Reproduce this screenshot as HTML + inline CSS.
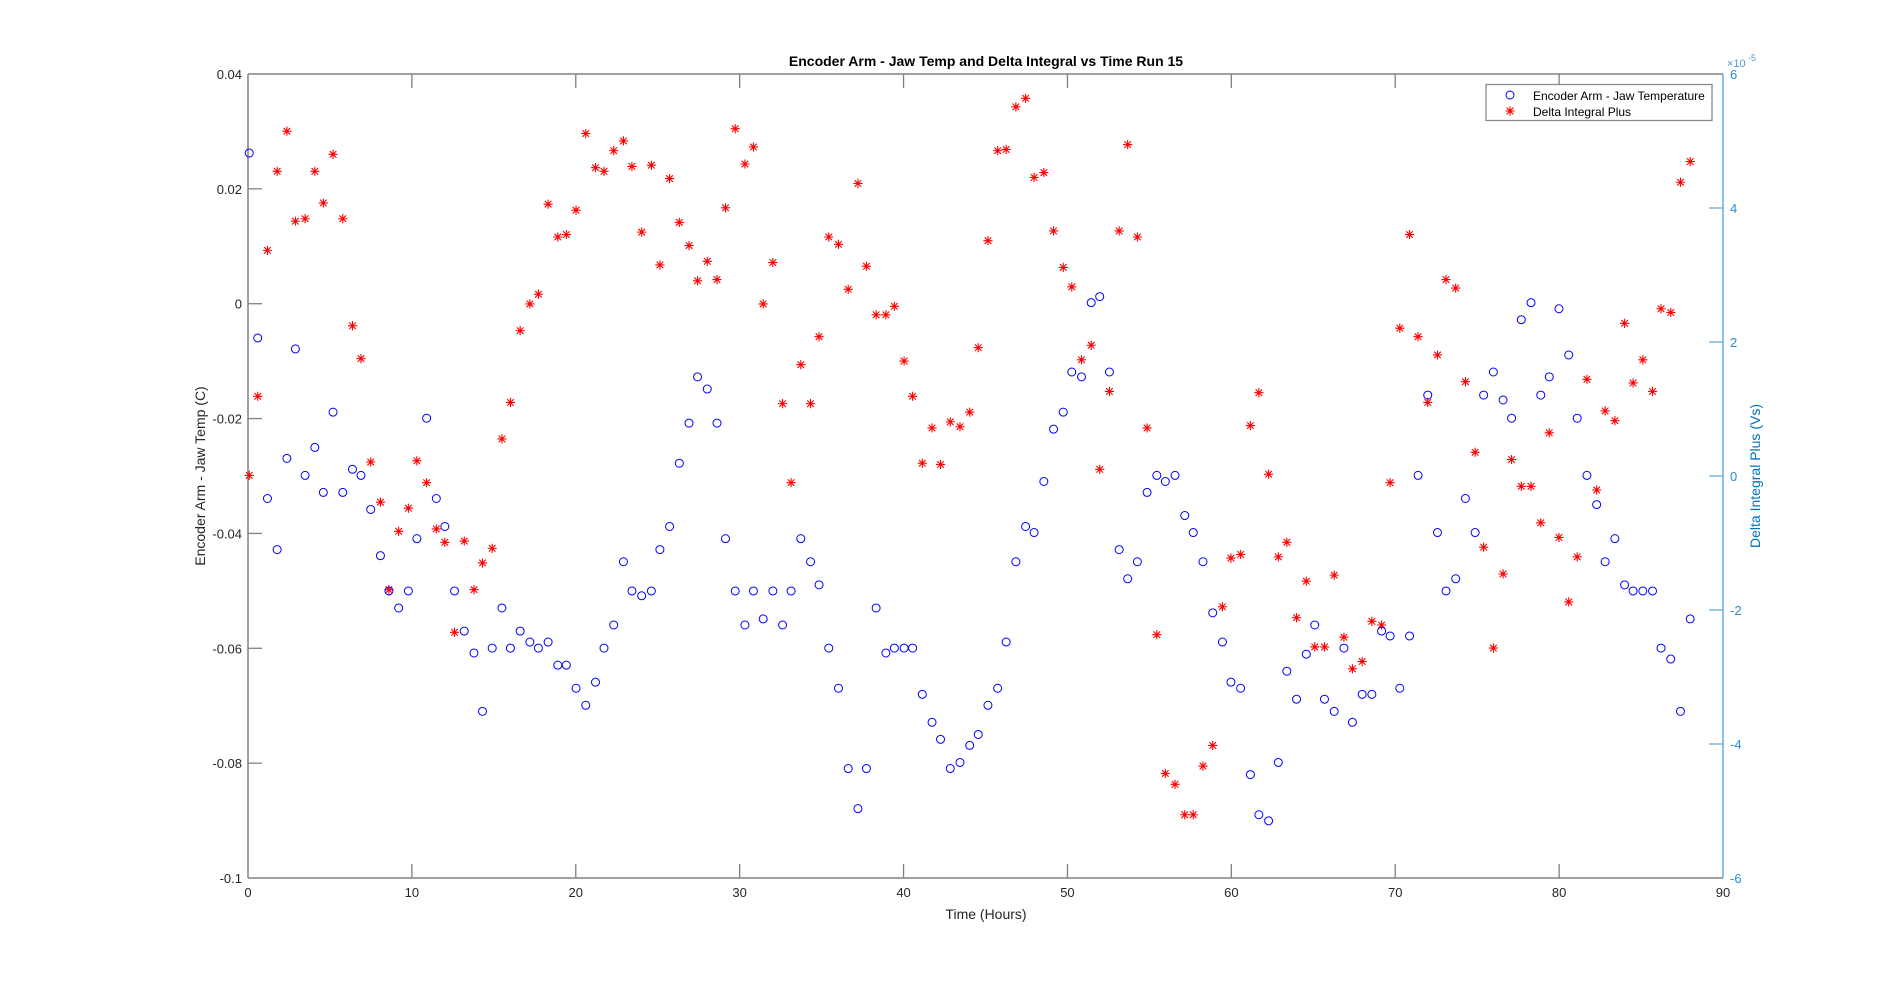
<!DOCTYPE html>
<html><head><meta charset="utf-8"><style>
html,body{margin:0;padding:0;background:#fff;}
svg{display:block;font-family:"Liberation Sans",Arial,sans-serif;}
</style></head><body>
<svg id="s" width="1904" height="987" xmlns="http://www.w3.org/2000/svg">
<rect width="1904" height="987" fill="#fff"/>
<g id="ax"></g>
<g id="pts"></g>
<text x="986" y="66" font-size="14" font-weight="bold" text-anchor="middle" fill="#000">Encoder Arm - Jaw Temp and Delta Integral vs Time Run 15</text>
<text x="986" y="919" font-size="14" text-anchor="middle" fill="#262626">Time (Hours)</text>
<text transform="translate(205,476) rotate(-90)" font-size="14" text-anchor="middle" fill="#262626">Encoder Arm - Jaw Temp (C)</text>
<text transform="translate(1760,476) rotate(-90)" font-size="14" text-anchor="middle" fill="#0072BD">Delta Integral Plus (Vs)</text>
<text x="1727" y="67" font-size="11" fill="#4d9ad6">×10</text>
<text x="1748" y="61" font-size="9" fill="#4d9ad6">-5</text>
<rect x="1486" y="84.5" width="226" height="36" fill="#fff" stroke="#8a8a8a" stroke-width="1.3"/>
<circle cx="1510" cy="95" r="4" fill="none" stroke="#0000ff" stroke-width="1"/>
<text x="1533" y="100" font-size="12" fill="#000">Encoder Arm - Jaw Temperature</text>
<text x="1533" y="116" font-size="12" fill="#000">Delta Integral Plus</text>
<g id="leg"></g>
</svg>
<script>
var NS="http://www.w3.org/2000/svg";
function el(p,t,a){var e=document.createElementNS(NS,t);for(var k in a)e.setAttribute(k,a[k]);p.appendChild(e);return e;}
var ax=document.getElementById('ax'),pts=document.getElementById('pts');
var L=248,R=1723,T=74,B=878,G="#808080",BL="#6aaede";
el(ax,'line',{x1:L,y1:T,x2:R,y2:T,stroke:G,'stroke-width':1.5});
el(ax,'line',{x1:L,y1:B,x2:R,y2:B,stroke:G,'stroke-width':1.5});
el(ax,'line',{x1:L,y1:T,x2:L,y2:B,stroke:G,'stroke-width':1.5});
el(ax,'line',{x1:R,y1:T,x2:R,y2:B,stroke:BL,'stroke-width':1.5});
for(var i=0;i<=9;i++){var x=L+i*(R-L)/9;
 if(i>0&&i<9){el(ax,'line',{x1:x,y1:B,x2:x,y2:B-14,stroke:G,'stroke-width':1.3});el(ax,'line',{x1:x,y1:T,x2:x,y2:T+14,stroke:G,'stroke-width':1.3});}
 var t=el(ax,'text',{x:x,y:B+19,'font-size':13,'text-anchor':'middle',fill:'#262626'});t.textContent=i*10;}
var yl=["0.04","0.02","0","-0.02","-0.04","-0.06","-0.08","-0.1"];
for(var i=0;i<8;i++){var y=T+i*(B-T)/7;
 if(i>0&&i<7)el(ax,'line',{x1:L,y1:y,x2:L+14,y2:y,stroke:G,'stroke-width':1.3});
 var t=el(ax,'text',{x:L-6,y:y+5,'font-size':13,'text-anchor':'end',fill:'#262626'});t.textContent=yl[i];}
var rl=["6","4","2","0","-2","-4","-6"];
for(var i=0;i<7;i++){var y=T+i*(B-T)/6;
 if(i>0&&i<6)el(ax,'line',{x1:R,y1:y,x2:R-14,y2:y,stroke:BL,'stroke-width':1.3});
 var t=el(ax,'text',{x:R+7,y:y+5,'font-size':13,fill:'#2a8ad4'});t.textContent=rl[i];}
function X(d){return L+(d-204)*(R-L)/1214;}
function Y(d){return T+(d-62)*(B-T)/661;}
var C=[[205,127],[212,279],[220,411],[228,453],[236,378],[243,288],[251,392],[259,369],[266,406],[274,340],[282,406],[290,387],[297,392],[305,420],[313,458],[320,487],[328,501],[336,487],[343,444],[351,345],[359,411],[366,434],[374,487],[382,520],[390,538],[397,586],[405,534],[413,501],[420,534],[428,520],[436,529],[443,534],[451,529],[459,548],[466,548],[474,567],[482,581],[490,562],[497,534],[505,515],[513,463],[520,487],[528,491],[536,487],[543,453],[551,434],[559,382],[567,349],[574,311],[582,321],[590,349],[597,444],[605,487],[613,515],[620,487],[628,510],[636,487],[644,515],[651,487],[659,444],[667,463],[674,482],[682,534],[690,567],[698,633],[706,666],[713,633],[721,501],[729,538],[736,534],[744,534],[751,534],[759,572],[767,595],[774,609],[782,633],[790,628],[798,614],[805,605],[813,581],[821,567],[828,529],[836,463],[844,434],[851,439],[859,397],[867,354],[875,340],[882,307],[890,311],[898,250],[905,245],[913,307],[921,453],[928,477],[936,463],[944,406],[952,392],[959,397],[967,392],[975,425],[982,439],[990,463],[998,505],[1006,529],[1013,562],[1021,567],[1029,638],[1036,671],[1044,676],[1052,628],[1059,553],[1067,576],[1075,539],[1082,515],[1090,576],[1098,586],[1106,534],[1113,595],[1121,572],[1129,572],[1137,520],[1144,524],[1152,567],[1160,524],[1167,392],[1175,326],[1183,439],[1190,487],[1198,477],[1206,411],[1214,439],[1221,326],[1229,307],[1237,330],[1244,345],[1252,264],[1260,250],[1268,326],[1275,311],[1283,255],[1291,293],[1298,345],[1306,392],[1314,416],[1321,463],[1329,444],[1337,482],[1344,487],[1352,487],[1360,487],[1367,534],[1375,543],[1383,586],[1391,510]];
var S=[[205,392],[212,327],[220,207],[228,142],[236,109],[243,183],[251,181],[259,142],[266,168],[274,128],[282,181],[290,269],[297,296],[305,381],[313,414],[320,486],[328,438],[336,419],[343,380],[351,398],[359,436],[366,447],[374,521],[382,446],[390,486],[397,464],[405,452],[413,362],[420,332],[428,273],[436,251],[443,243],[451,169],[459,196],[466,194],[474,174],[482,111],[490,139],[497,142],[505,125],[513,117],[520,138],[528,192],[536,137],[543,219],[551,148],[559,184],[567,203],[574,232],[582,216],[590,231],[597,172],[605,107],[613,136],[620,122],[628,251],[636,217],[644,333],[651,398],[659,301],[667,333],[674,278],[682,196],[690,202],[698,239],[706,152],[713,220],[721,260],[729,260],[736,253],[744,298],[751,327],[759,382],[767,353],[774,383],[782,348],[790,352],[798,340],[805,287],[813,199],[821,125],[828,124],[836,89],[844,82],[851,147],[859,143],[867,191],[875,221],[882,237],[890,297],[898,285],[905,387],[913,323],[921,191],[928,120],[936,196],[944,353],[952,523],[959,637],[967,646],[975,671],[982,671],[990,631],[998,614],[1006,500],[1013,460],[1021,457],[1029,351],[1036,324],[1044,391],[1052,459],[1059,447],[1067,509],[1075,479],[1082,533],[1090,533],[1098,474],[1106,525],[1113,551],[1121,545],[1129,512],[1137,515],[1144,398],[1152,271],[1160,194],[1167,278],[1175,332],[1183,293],[1190,231],[1198,238],[1206,315],[1214,373],[1221,451],[1229,534],[1237,473],[1244,379],[1252,401],[1260,401],[1268,431],[1275,357],[1283,443],[1291,496],[1298,459],[1306,313],[1314,404],[1321,339],[1329,347],[1337,267],[1344,316],[1352,297],[1360,323],[1367,255],[1375,258],[1383,151],[1391,134]];
function star(p,x,y){var r=4.6,d=3.3;el(p,'path',{d:'M'+(x-r)+' '+y+'h'+(2*r)+'M'+x+' '+(y-r)+'v'+(2*r)+'M'+(x-d)+' '+(y-d)+'l'+(2*d)+' '+(2*d)+'M'+(x-d)+' '+(y+d)+'l'+(2*d)+' '+(-2*d),stroke:'#ff0000','stroke-width':1.1,fill:'none'});}
S.forEach(function(p){star(pts,X(p[0]),Y(p[1]));});
C.forEach(function(p){el(pts,'circle',{cx:X(p[0]),cy:Y(p[1]),r:4,fill:'none',stroke:'#0000ff','stroke-width':1});});
star(document.getElementById('leg'),1510,111);
</script>
</body></html>
